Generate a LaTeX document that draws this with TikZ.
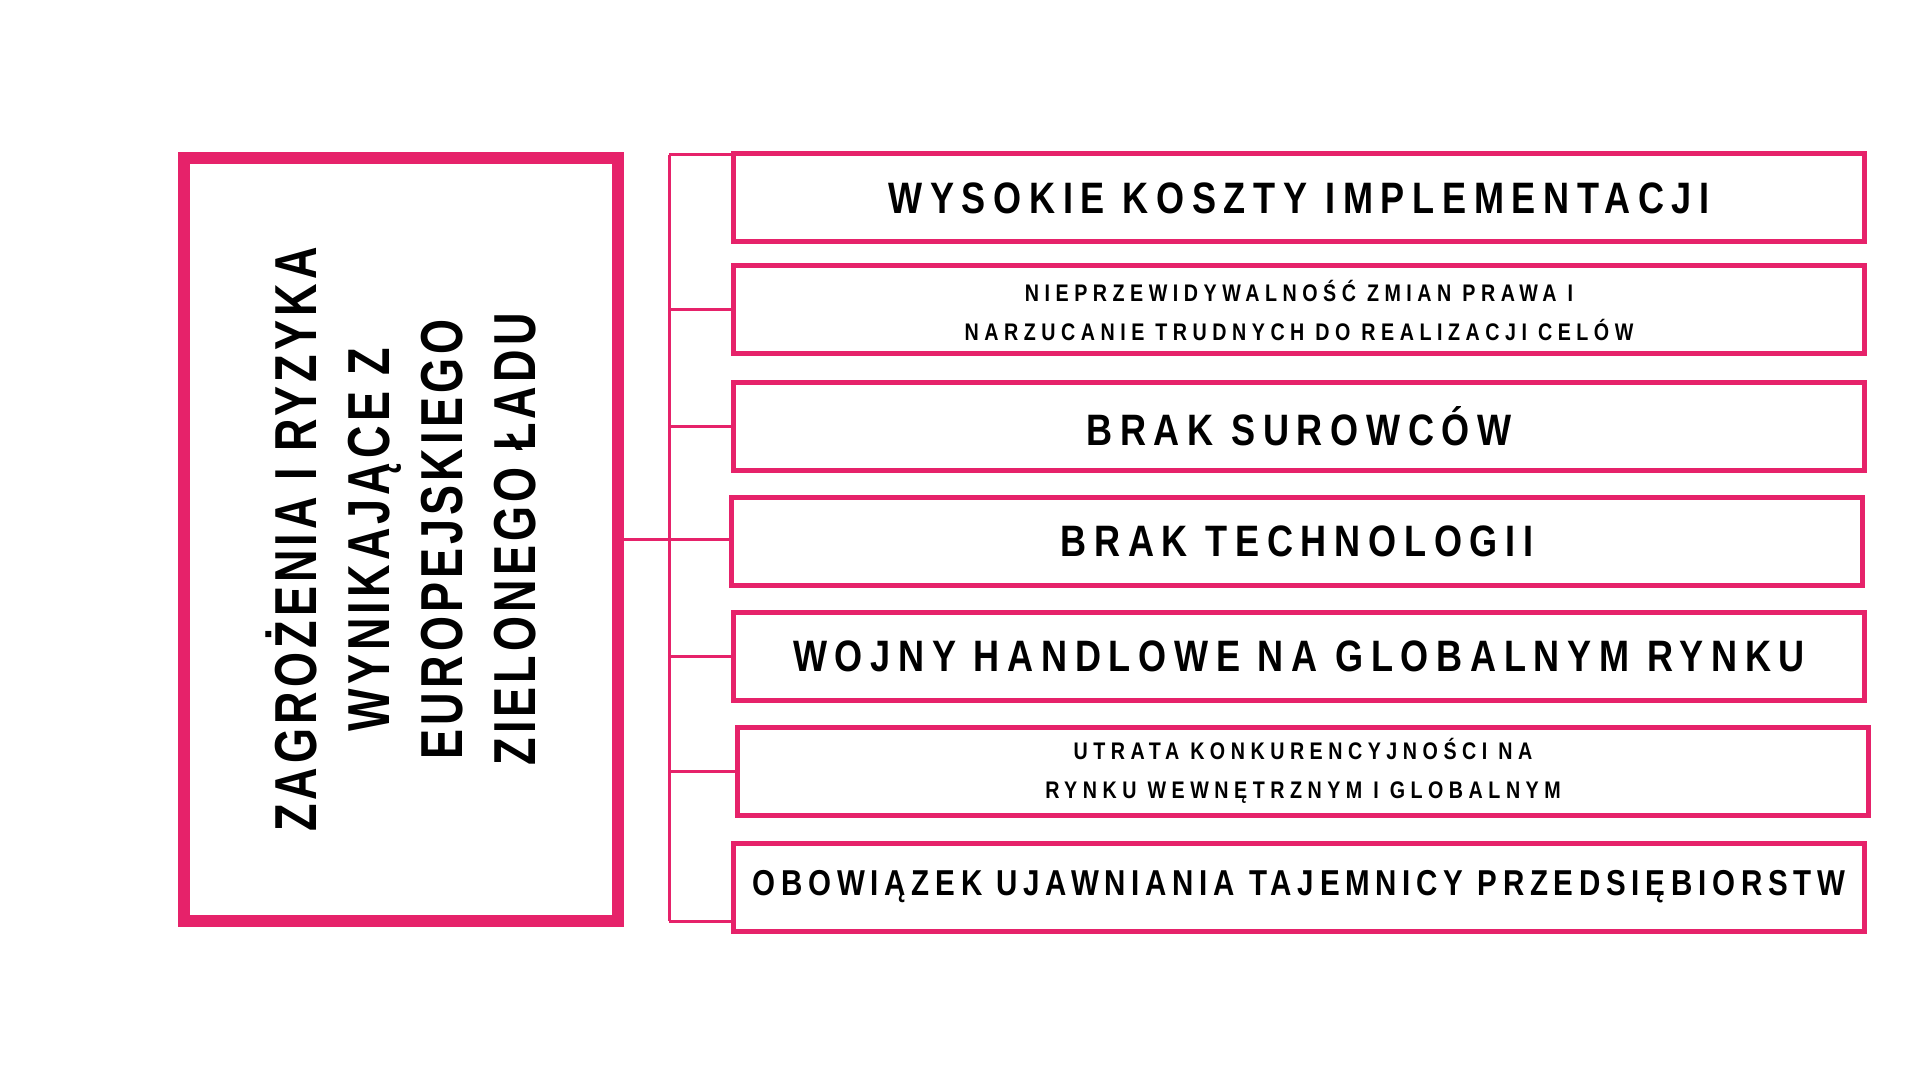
\documentclass[tikz,border=0pt]{standalone}
\usepackage{fontspec}
\setmainfont{Liberation Sans}
\newfontfamily\condfont{Liberation Sans}[FakeStretch=0.82]
\newfontfamily\sidefont{Liberation Sans}[FakeStretch=0.76]
\definecolor{roz}{HTML}{E6226A}
\newcommand\bigtxt{\condfont\bfseries\fontsize{22}{26}\selectfont\addfontfeature{LetterSpace=17.5}}
\newcommand\midtxt{\condfont\bfseries\fontsize{18}{22}\selectfont\addfontfeature{LetterSpace=16}}
\newcommand\smalltxt{\condfont\bfseries\fontsize{12}{19.5}\selectfont\addfontfeature{LetterSpace=23}}
\newcommand\sidetxt{\sidefont\bfseries\fontsize{29.6}{36.5}\selectfont\addfontfeature{LetterSpace=7}}
\tikzset{
	mainbox/.style={draw=roz, line width=6pt, rotate=90, minimum width=381.5pt, minimum height=217pt, inner sep=0pt, align=center, font=\sidetxt},
	riskbox/.style={draw=roz, line width=2.5pt, minimum width=565.5pt, minimum height=44pt, inner sep=0pt, align=center},
	link/.style={draw=roz, line width=1.5pt}
}
\begin{document}
\begin{tikzpicture}[x=0.5pt, y=-0.5pt]
	\useasboundingbox[fill=white] (0,0) rectangle (1920,1080);
	\node[mainbox] (zagr) at (401,539.5) {ZAGROŻENIA I RYZYKA\\WYNIKAJĄCE Z\\EUROPEJSKIEGO\\ZIELONEGO ŁADU};
	\foreach \n/\y/\x/\f/\t in {1/198/1299/\bigtxt/{WYSOKIE KOSZTY IMPLEMENTACJI},
		2/310/1299/\smalltxt/{NIEPRZEWIDYWALNOŚĆ ZMIAN PRAWA I\\NARZUCANIE TRUDNYCH DO REALIZACJI CELÓW},
		3/426/1299/\bigtxt/{BRAK SUROWCÓW},
		4/541/1297/\bigtxt/{BRAK TECHNOLOGII},
		5/656/1299/\bigtxt/{WOJNY HANDLOWE NA GLOBALNYM RYNKU},
		6/771/1303/\smalltxt/{UTRATA KONKURENCYJNOŚCI NA\\RYNKU WEWNĘTRZNYM I GLOBALNYM},
		7/887/1299/\midtxt/{OBOWIĄZEK UJAWNIANIA TAJEMNICY PRZEDSIĘBIORSTW}}
		\node[riskbox, font=\f] (b\n) at (\x,\y) {\t};
	% drzewko
	\coordinate (tt) at (669,155);
	\coordinate (tb) at (669,921);
	\draw[link] (tt) -- (tb);
	\draw[link] (tt) -- (tt -| b1.west);
	\draw[link] (tb) -- (tb -| b7.west);
	\foreach \n in {2,3,5,6} \draw[link] (b\n.west -| tt) -- (b\n.west);
	\draw[link] (zagr.south) -- (zagr.south -| b4.west);
\end{tikzpicture}
\end{document}
